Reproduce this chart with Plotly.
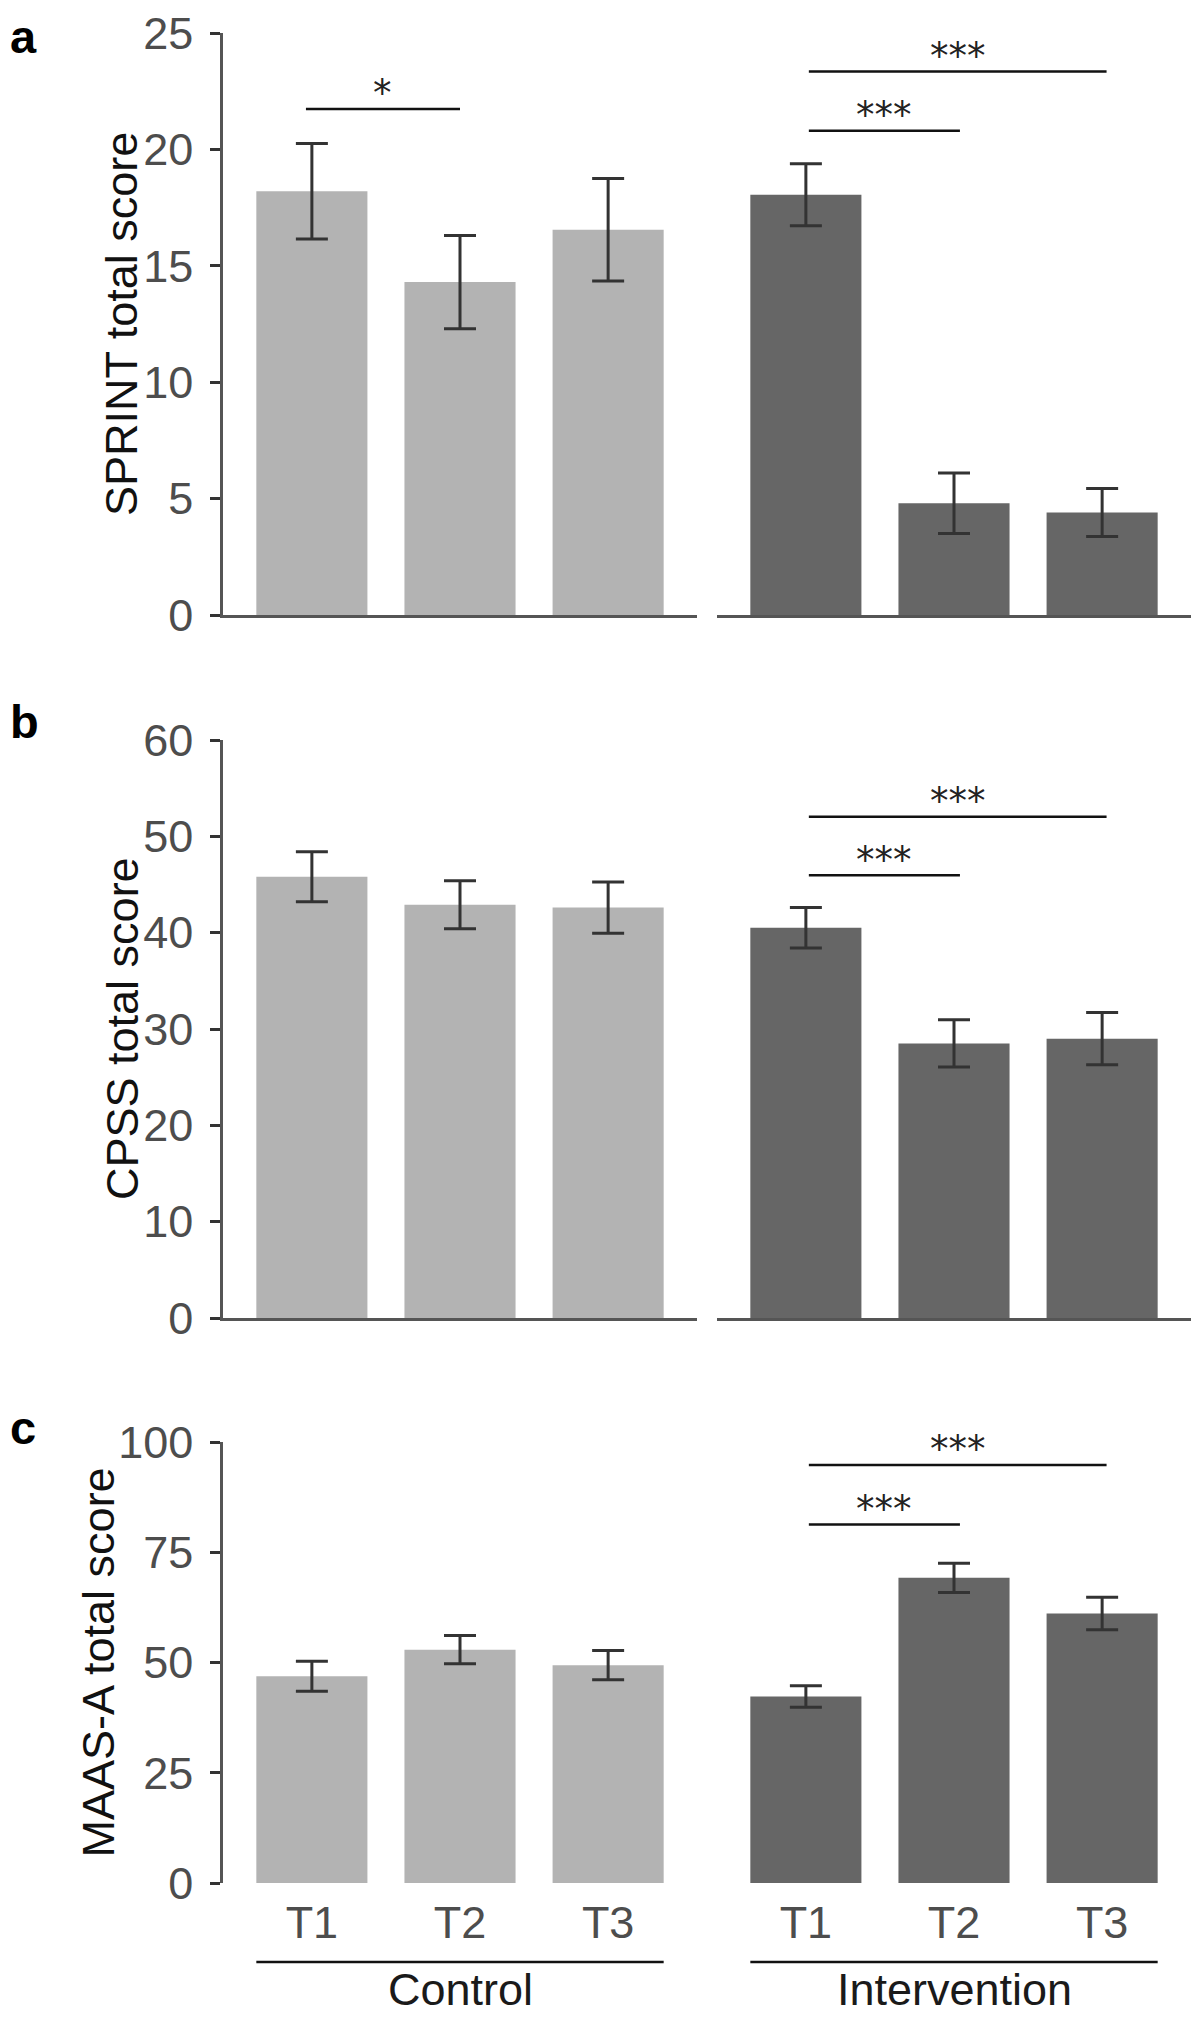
import plotly.graph_objects as go

W, H = 1200, 2017
OFF = 8  # default page body margin of the html page

# ---------------- data ----------------
categories = ["T1", "T2", "T3"]
groups = ["Control", "Intervention"]

sprint_control = [18.2, 14.3, 16.55]
sprint_control_err = [2.05, 2.0, 2.2]
sprint_intervention = [18.05, 4.8, 4.4]
sprint_intervention_err = [1.33, 1.3, 1.03]

cpss_control = [45.8, 42.9, 42.6]
cpss_control_err = [2.6, 2.5, 2.65]
cpss_intervention = [40.5, 28.5, 29.0]
cpss_intervention_err = [2.1, 2.45, 2.7]

maas_control = [46.9, 52.9, 49.4]
maas_control_err = [3.4, 3.2, 3.3]
maas_intervention = [42.3, 69.2, 61.1]
maas_intervention_err = [2.45, 3.3, 3.7]

y_titles = ["SPRINT total score", "CPSS total score", "MAAS-A total score"]
panel_letters = ["a", "b", "c"]
y_ranges = [[0, 25], [0, 60], [0, 100]]
y_dticks = [5, 10, 25]

# significance brackets
sig_panel = [0, 0, 0, 1, 1, 2, 2]
sig_group = [0, 1, 1, 1, 1, 1, 1]
sig_x0 = [-0.04, 0.02, 0.02, 0.02, 0.02, 0.02, 0.02]
sig_x1 = [1.0, 1.04, 2.03, 1.04, 2.03, 1.04, 2.03]
sig_y = [21.74, 20.8, 23.35, 45.96, 52.04, 81.3, 94.8]
sig_label = ["*", "***", "***", "***", "***", "***", "***"]

# ---------------- layout geometry (page pixels) ----------------
def px_x(x):
    return (x - OFF) / W

def px_y(y):
    return 1 - (y - OFF) / H

x_dom = [[px_x(223), px_x(697)], [px_x(717), px_x(1191)]]
y_px = [(33, 615), (740, 1318), (1442, 1883)]  # (top, bottom)
y_dom = [[px_y(b), px_y(t)] for t, b in y_px]

CTRL_COLOR = "#b3b3b3"
INT_COLOR = "#666666"
AXIS_COLOR = "#555555"
TICKLABEL_COLOR = "#4d4d4d"
FONT = "Liberation Sans, Arial, Helvetica, sans-serif"

panel_data = [
    (sprint_control, sprint_control_err, sprint_intervention, sprint_intervention_err),
    (cpss_control, cpss_control_err, cpss_intervention, cpss_intervention_err),
    (maas_control, maas_control_err, maas_intervention, maas_intervention_err),
]

fig = go.Figure()
layout = dict(
    width=W, height=H,
    margin=dict(l=0, r=0, t=0, b=0),
    plot_bgcolor="white", paper_bgcolor="white",
    showlegend=False,
    font=dict(family=FONT, color="#1a1a1a"),
)
annotations = []
shapes = []

for p in range(3):
    ctrl, ctrl_err, intv, intv_err = panel_data[p]
    for g in range(2):
        idx = p * 2 + g + 1
        xa = "x" if idx == 1 else f"x{idx}"
        ya = "y" if idx == 1 else f"y{idx}"
        vals = ctrl if g == 0 else intv
        errs = ctrl_err if g == 0 else intv_err
        fig.add_trace(go.Bar(
            x=categories, y=vals,
            marker=dict(color=CTRL_COLOR if g == 0 else INT_COLOR, line=dict(width=0)),
            width=0.75,
            error_y=dict(type="data", array=errs, visible=True,
                         color="#333333", thickness=3, width=16),
            xaxis=xa, yaxis=ya, hoverinfo="skip",
        ))
        last_row = (p == 2)
        layout["xaxis" if idx == 1 else f"xaxis{idx}"] = dict(
            domain=x_dom[g], anchor=ya, type="category",
            categoryorder="array", categoryarray=categories,
            range=[-0.6, 2.6], fixedrange=True,
            showline=not last_row, linecolor=AXIS_COLOR, linewidth=2.5,
            ticks="", showticklabels=last_row,
            tickfont=dict(size=45, color=TICKLABEL_COLOR, family=FONT),
            ticklabelstandoff=9, ticklabeloverflow="allow",
            showgrid=False, zeroline=False, automargin=False,
        )
        layout["yaxis" if idx == 1 else f"yaxis{idx}"] = dict(
            domain=y_dom[p], anchor=xa, range=y_ranges[p],
            dtick=y_dticks[p], tick0=0, fixedrange=True,
            visible=(g == 0),
            showline=True, linecolor=AXIS_COLOR, linewidth=2.5,
            ticks="outside", ticklen=10, tickwidth=2.5, tickcolor="#333333",
            tickfont=dict(size=45, color=TICKLABEL_COLOR, family=FONT),
            ticklabelstandoff=8, ticklabeloverflow="allow",
            showgrid=False, zeroline=False, automargin=False,
        )

    # y axis title
    t, b = y_px[p]
    annotations.append(dict(
        text=y_titles[p], textangle=-90, showarrow=False,
        xref="paper", yref="paper",
        x=px_x(122 if p < 2 else 98), y=px_y((t + b) / 2),
        xanchor="center", yanchor="middle",
        font=dict(size=45, color="#111111", family=FONT),
    ))
    # panel letter
    if p == 0:
        letter_pos = dict(y=1.0, yanchor="top")
    else:
        letter_pos = dict(y=px_y([20, 722, 1427][p]), yanchor="middle")
    annotations.append(dict(
        text=f"<b>{panel_letters[p]}</b>", showarrow=False,
        xref="paper", yref="paper",
        x=0.0, xanchor="left",
        font=dict(size=47, color="#000000", family=FONT),
        **letter_pos,
    ))

# significance brackets
for i in range(len(sig_y)):
    idx = sig_panel[i] * 2 + sig_group[i] + 1
    xa = "x" if idx == 1 else f"x{idx}"
    ya = "y" if idx == 1 else f"y{idx}"
    shapes.append(dict(
        type="line", xref=xa, yref=ya,
        x0=sig_x0[i], x1=sig_x1[i], y0=sig_y[i], y1=sig_y[i],
        line=dict(color="#111111", width=2.5),
    ))
    annotations.append(dict(
        text=sig_label[i], showarrow=False, xref=xa, yref=ya,
        x=(sig_x0[i] + sig_x1[i]) / 2, y=sig_y[i],
        xanchor="center", yanchor="middle", yshift=15,
        font=dict(size=37, color="#222222", family="DejaVu Sans, sans-serif"),
    ))

# group brackets below bottom panel
for g in range(2):
    xa = f"x{5 + g}"
    shapes.append(dict(
        type="line", xref=xa, yref="paper",
        x0=-0.375, x1=2.375, y0=px_y(1962), y1=px_y(1962),
        line=dict(color="#111111", width=2.5),
    ))
    annotations.append(dict(
        text=groups[g], showarrow=False, xref=xa, yref="paper",
        x=1, y=px_y(2017), xanchor="center", yanchor="bottom",
        font=dict(size=45, color="#1a1a1a", family=FONT),
    ))

layout["annotations"] = annotations
layout["shapes"] = shapes
fig.update_layout(**layout)

fig.write_html("out.html")
